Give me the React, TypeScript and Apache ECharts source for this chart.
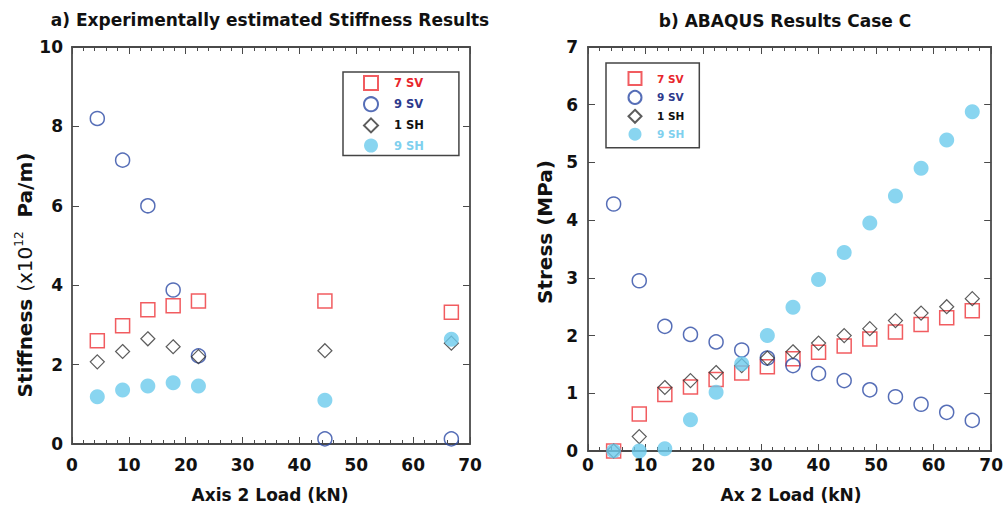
import React, { useEffect, useRef } from "react";
import * as echarts from "echarts";

// ---- data ----
const loadsA = [4.45, 8.9, 13.34, 17.79, 22.24, 44.48, 66.72];
const stiff7SV = [2.6, 2.98, 3.38, 3.48, 3.6, 3.6, 3.32];
const stiff9SV = [8.2, 7.15, 6.0, 3.88, 2.22, 0.13, 0.13];
const stiff1SH = [2.07, 2.33, 2.65, 2.45, 2.2, 2.35, 2.54];
const stiff9SH = [1.19, 1.36, 1.46, 1.54, 1.46, 1.1, 2.64];

const loadsB = [4.45, 8.9, 13.34, 17.79, 22.24, 26.69, 31.14, 35.59, 40.03, 44.48, 48.93, 53.38, 57.83, 62.28, 66.72];
const stress7SV = [0, 0.64, 0.98, 1.11, 1.24, 1.35, 1.46, 1.6, 1.71, 1.82, 1.94, 2.06, 2.19, 2.31, 2.43];
const stress9SV = [4.28, 2.95, 2.16, 2.02, 1.89, 1.75, 1.61, 1.48, 1.34, 1.22, 1.06, 0.94, 0.81, 0.67, 0.53];
const stress1SH = [0, 0.25, 1.1, 1.22, 1.36, 1.48, 1.61, 1.72, 1.87, 2.0, 2.12, 2.26, 2.39, 2.5, 2.64];
const stress9SH = [0, 0, 0.04, 0.54, 1.02, 1.51, 2.0, 2.49, 2.97, 3.44, 3.95, 4.42, 4.9, 5.39, 5.88];

const seriesNames = ["7 SV", "9 SV", "1 SH", "9 SH"];
const xTicks = { min: 0, max: 70, interval: 10 };
const yTicksA = { min: 0, max: 10, interval: 2 };
const yTicksB = { min: 0, max: 7, interval: 1 };

const FONT = '"DejaVu Sans", "Liberation Sans", Arial, sans-serif';
const RED = "#ee3338";
const BLUE = "#2c4aa5";
const BLACK = "#333333";
const LIGHT = "#6ccbec";
const AX = "#4a4a4a";

const symStyles = [
  { symbol: "rect", symbolSize: 14, itemStyle: { color: "rgba(0,0,0,0)", borderColor: RED, borderWidth: 1.5 } },
  { symbol: "circle", symbolSize: 14, itemStyle: { color: "rgba(0,0,0,0)", borderColor: BLUE, borderWidth: 1.5 } },
  { symbol: "diamond", symbolSize: 14, itemStyle: { color: "rgba(0,0,0,0)", borderColor: BLACK, borderWidth: 1.2 } },
  { symbol: "circle", symbolSize: 15, itemStyle: { color: LIGHT, borderWidth: 0 } },
];
const legendColors = ["#e8262b", "#2e3a8c", "#111111", "#7fd0ee"];

function xAxes(gridIndex: number, margin: number) {
  const common = {
    type: "value",
    gridIndex,
    ...xTicks,
    splitLine: { show: false },
    axisLine: { show: true, onZero: false, lineStyle: { color: AX, width: 1.8 } },
    axisTick: { show: true, inside: true, length: 7, lineStyle: { color: AX, width: 1 } },
    minorTick: { show: true, splitNumber: 5, length: 4, lineStyle: { color: AX, width: 1 } },
  };
  return [
    {
      ...common,
      position: "bottom",
      axisLabel: { margin, fontSize: 17, fontWeight: "bold", fontFamily: FONT, color: "#111" },
    },
    { ...common, position: "top", axisLabel: { show: false } },
  ];
}

function yAxes(gridIndex: number, ticks: any, margin: number) {
  const common = {
    type: "value",
    gridIndex,
    ...ticks,
    splitLine: { show: false },
    axisLine: { show: true, onZero: false, lineStyle: { color: AX, width: 1.8 } },
    axisTick: { show: true, inside: true, length: 7, lineStyle: { color: AX, width: 1 } },
  };
  return [
    {
      ...common,
      position: "left",
      axisLabel: { margin, fontSize: 17, fontWeight: "bold", fontFamily: FONT, color: "#111" },
    },
    { ...common, position: "right", axisLabel: { show: false } },
  ];
}

function makeSeries(gridIdx: number, loads: number[], sets: number[][]) {
  return sets.map((vals, k) => ({
    type: "scatter",
    name: seriesNames[k],
    xAxisIndex: gridIdx * 2,
    yAxisIndex: gridIdx * 2,
    data: loads.map((x, i) => [x, vals[i]]),
    ...symStyles[k],
    z: 2 + k,
  }));
}

function legendData(size: number, gap: number) {
  return seriesNames.map((n, k) => ({
    name: n,
    textStyle: {
      color: legendColors[k],
      fontWeight: "bold",
      fontSize: size,
      fontFamily: FONT,
      padding: [0, 0, 0, gap],
    },
  }));
}

export default function App() {
  const ref = useRef<HTMLDivElement>(null);
  useEffect(() => {
    if (!ref.current) return;
    const chart = echarts.init(ref.current, null, { renderer: "svg" });
    const titleFont = { fontSize: 17, fontWeight: "bold", fontFamily: FONT, fill: "#111" };
    chart.setOption({
      animation: false,
      backgroundColor: "#ffffff",
      grid: [
        { left: 72, right: 1006 - 470, top: 47, bottom: 510 - 444 },
        { left: 588, right: 1006 - 993, top: 47, bottom: 510 - 451 },
      ],
      xAxis: [...xAxes(0, 12), ...xAxes(1, 5)],
      yAxis: [...yAxes(0, yTicksA, 9), ...yAxes(1, yTicksB, 10)],
      legend: [
        {
          orient: "vertical",
          left: 343,
          top: 72,
          padding: [3, 35, 3, 20],
          itemWidth: 14,
          itemHeight: 14,
          itemGap: 5.2,
          borderColor: "#444",
          borderWidth: 1.5,
          selectedMode: false,
          data: legendData(11.5, 11),
        },
        {
          orient: "vertical",
          left: 606,
          top: 63,
          padding: [8, 15, 7, 21.5],
          itemWidth: 13,
          itemHeight: 13,
          itemGap: 3.9,
          borderColor: "#444",
          borderWidth: 1.5,
          selectedMode: false,
          data: legendData(10.5, 10.5),
        },
      ],
      graphic: [
        {
          type: "text",
          x: 270,
          y: 20,
          style: { text: "a) Experimentally estimated Stiffness Results", align: "center", verticalAlign: "middle", ...titleFont },
        },
        {
          type: "text",
          x: 785,
          y: 21,
          style: { text: "b) ABAQUS Results Case C", align: "center", verticalAlign: "middle", ...titleFont },
        },
        {
          type: "text",
          x: 270,
          y: 495,
          style: { text: "Axis 2 Load (kN)", align: "center", verticalAlign: "middle", ...titleFont },
        },
        {
          type: "text",
          x: 791,
          y: 495,
          style: { text: "Ax 2 Load (kN)", align: "center", verticalAlign: "middle", ...titleFont },
        },
        {
          type: "text",
          x: 25,
          y: 275,
          rotation: Math.PI / 2,
          style: {
            text: "{b|Stiffness }{n|(x10}{s|12}{b|  Pa/m)}",
            align: "center",
            verticalAlign: "middle",
            fill: "#111",
            rich: {
              b: { fontSize: 20, fontWeight: "bold", fontFamily: FONT, fill: "#111" },
              n: { fontSize: 20, fontWeight: "normal", fontFamily: FONT, fill: "#111" },
              s: { fontSize: 12, fontWeight: "normal", fontFamily: FONT, fill: "#111", padding: [0, 0, 12, 0] },
            },
          },
        },
        {
          type: "text",
          x: 545,
          y: 232,
          rotation: Math.PI / 2,
          style: {
            text: "Stress (MPa)",
            align: "center",
            verticalAlign: "middle",
            fontSize: 20,
            fontWeight: "bold",
            fontFamily: FONT,
            fill: "#111",
          },
        },
      ],
      series: [
        ...makeSeries(0, loadsA, [stiff7SV, stiff9SV, stiff1SH, stiff9SH]),
        ...makeSeries(1, loadsB, [stress7SV, stress9SV, stress1SH, stress9SH]),
      ],
    });
    return () => chart.dispose();
  }, []);
  return <div ref={ref} style={{ position: "absolute", left: 0, top: 0, width: 1006, height: 510 }} />;
}
